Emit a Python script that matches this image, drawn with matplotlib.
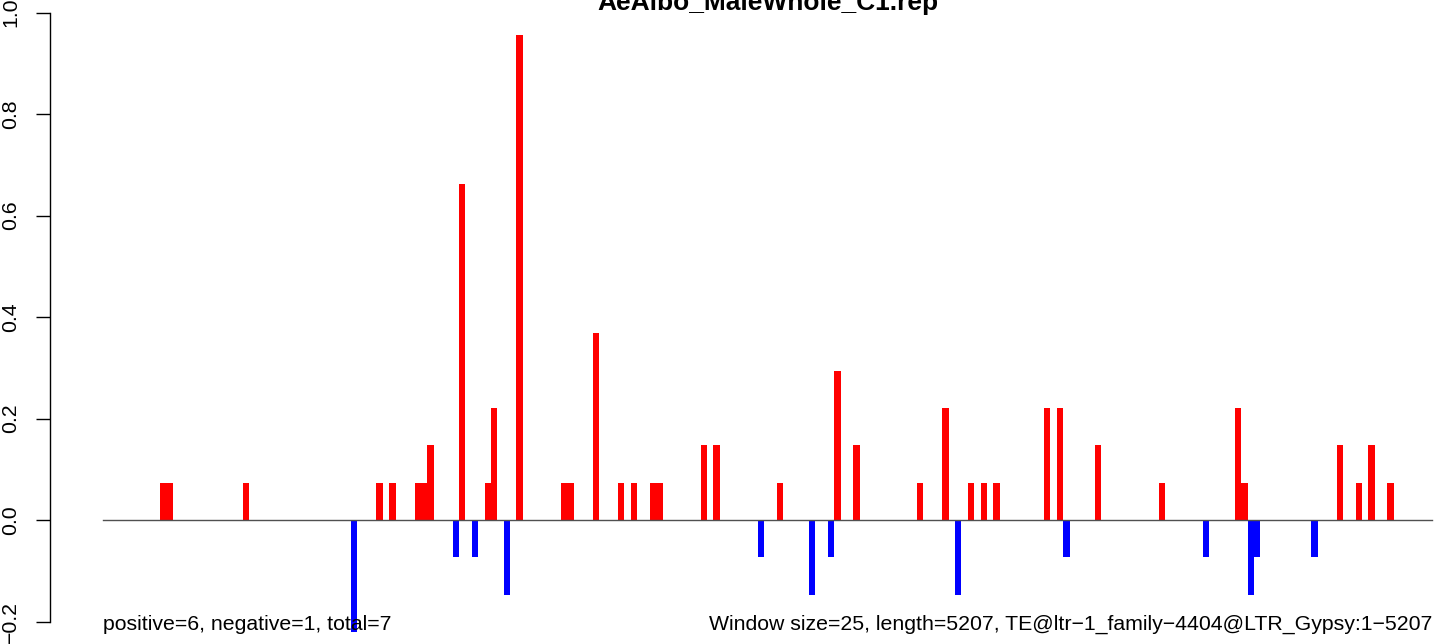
import matplotlib
matplotlib.use("Agg")
import matplotlib.pyplot as plt

# window index -> height (positive strand, red)
pos_idx = [9, 10, 22, 43, 45, 49, 50, 51, 56, 60, 61, 65, 72, 73, 77, 81, 83, 86, 87,
           94, 96, 106, 115, 118, 128, 132, 136, 138, 140, 148, 150, 156, 166, 178,
           179, 194, 197, 199, 202]
pos_val = [0.0735, 0.0735, 0.0735, 0.0735, 0.0735, 0.0735, 0.0735, 0.147, 0.662, 0.0735,
           0.221, 0.956, 0.0735, 0.0735, 0.368, 0.0735, 0.0735, 0.0735, 0.0735,
           0.147, 0.147, 0.0735, 0.294, 0.147, 0.0735, 0.221, 0.0735, 0.0735, 0.0735,
           0.221, 0.221, 0.147, 0.0735, 0.221, 0.0735, 0.147, 0.0735, 0.147, 0.0735]

# negative strand, blue
neg_idx = [39, 55, 58, 63, 103, 111, 114, 134, 151, 173, 180, 181, 190]
neg_val = [-0.221, -0.0735, -0.0735, -0.147, -0.0735, -0.147, -0.0735, -0.147,
           -0.0735, -0.0735, -0.147, -0.0735, -0.0735]

n_windows = 209
yticks = [-0.2, 0.0, 0.2, 0.4, 0.6, 0.8, 1.0]
ytick_labels = ["\u22120.2", "0.0", "0.2", "0.4", "0.6", "0.8", "1.0"]

title = "AeAlbo_MaleWhole_C1.rep"
left_note = "positive=6, negative=1, total=7"
right_note = "Window size=25, length=5207, TE@ltr\u22121_family\u22124404@LTR_Gypsy:1\u22125207"

plt.rcParams['font.family'] = ['Liberation Sans', 'DejaVu Sans']

W, H = 1444, 644
fig = plt.figure(figsize=(W / 100, H / 100), dpi=100)

# plot region in pixels (extends past the picture, like a cropped R device)
px_left, px_w = 49.84, 1435.3
px_bottom, px_h = 645.9, 657.7
ax = fig.add_axes([px_left / W, (H - px_bottom) / H, px_w / W, px_h / H])

ext = 0.04 * n_windows
ax.set_xlim(-ext, n_windows + ext)
ax.set_ylim(-0.248, 1.048)

ax.bar(pos_idx, pos_val, width=1, align='edge', color='#ff0000', linewidth=0)
ax.bar(neg_idx, neg_val, width=1, align='edge', color='#0000ff', linewidth=0)
ax.plot([0, n_windows], [0, 0], color='#505050', linewidth=1.0)

for s in ['top', 'right', 'bottom']:
    ax.spines[s].set_visible(False)
ax.spines['left'].set_bounds(-0.2, 1.0)
ax.spines['left'].set_linewidth(1.0)
ax.set_xticks([])
ax.set_yticks(yticks)
ax.set_yticklabels(ytick_labels, rotation=90, va='center', fontsize=15.3)
ax.tick_params(axis='y', length=10, width=1.0, pad=11.5)

ax.text(0, -0.217, left_note, ha='left', va='baseline', fontsize=15.3)
ax.text(n_windows, -0.217, right_note, ha='right', va='baseline', fontsize=15.3)
ax.text(n_windows / 2, 1.005, title, ha='center', va='baseline',
        fontsize=19, fontweight='bold')

fig.savefig('out.png', dpi=100)
